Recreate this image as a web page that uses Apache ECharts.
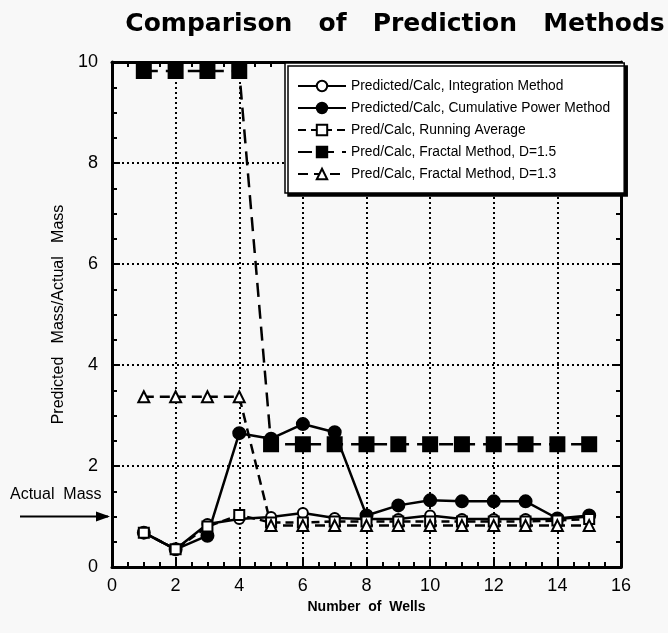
<!DOCTYPE html>
<html>
<head>
<meta charset="utf-8">
<script src="https://cdn.jsdelivr.net/npm/echarts@6/dist/echarts.min.js"></script>
<style>
html,body{margin:0;padding:0;background:#f8f8f8;}
#main{width:668px;height:633px;}
</style>
</head>
<body>
<div id="main"></div>
<script>
// data
var wells = [1,2,3,4,5,6,7,8,9,10,11,12,13,14,15];
var integration = [0.68,0.35,0.85,0.95,0.99,1.07,0.97,0.95,0.95,1.02,0.95,0.95,0.95,0.95,1.0];
var cumPower = [0.68,0.35,0.62,2.65,2.54,2.83,2.67,1.02,1.22,1.32,1.3,1.3,1.3,0.96,1.02];
var runningAvg = [0.68,0.35,0.8,1.03,0.88,0.88,0.9,0.9,0.9,0.9,0.9,0.9,0.9,0.92,0.95];
var fractal15 = [9.82,9.82,9.82,9.82,2.43,2.43,2.43,2.43,2.43,2.43,2.43,2.43,2.43,2.43,2.43];
var fractal13 = [3.37,3.37,3.37,3.37,0.82,0.82,0.82,0.82,0.82,0.82,0.82,0.82,0.82,0.82,0.82];
var names = ['Predicted/Calc, Integration Method','Predicted/Calc, Cumulative Power Method',
    'Pred/Calc, Running Average','Pred/Calc, Fractal Method, D=1.5','Pred/Calc, Fractal Method, D=1.3'];
var actualMass = 1;

function pairs(arr){
    var out=[];
    for(var i=0;i<arr.length;i++){ out.push([wells[i],arr[i]]); }
    return out;
}

function mkSeries(name,data,symbol,size,dash){
    return {
        name:name,
        type:'line',
        data:pairs(data),
        symbol:symbol,
        symbolSize:size,
        showAllSymbol:true,
        lineStyle:{color:'#000',width:2.5,type:dash},
        itemStyle:{color:'#000',borderColor:'#000',borderWidth:2},
        emphasis:{disabled:true},
        z:3
    };
}

var axisCommon = {
    type:'value',
    axisLine:{show:true,onZero:false,lineStyle:{color:'#000',width:3}},
    axisTick:{show:true,inside:true,length:8,lineStyle:{color:'#000',width:2}},
    minorTick:{show:true,splitNumber:4,length:5,lineStyle:{color:'#000',width:2}}
};

var chart = echarts.init(document.getElementById('main'));
var option = {
    backgroundColor:'#f8f8f8',
    animation:false,
    title:{
        text:'Comparison   of   Prediction   Methods',
        left:390, top:7, textAlign:'center',
        textStyle:{fontFamily:'DejaVu Sans',fontWeight:'bold',fontSize:25,color:'#000'}
    },
    grid:{left:112,right:47,top:62,bottom:66},
    legend:{
        orient:'vertical',
        left:285, top:63,
        padding:[16,14,12,12],
        itemGap:8,
        itemWidth:48,
        itemHeight:13,
        backgroundColor:'#fff',
        borderColor:'#000',
        borderWidth:1.5,
        shadowColor:'#000',
        shadowOffsetX:3,
        shadowOffsetY:3,
        shadowBlur:0,
        textStyle:{fontFamily:'Liberation Sans',fontSize:13.8,color:'#000'},
        data:names
    },
    xAxis:[
        Object.assign({}, axisCommon, {
            min:0,max:16,interval:2,
            name:'Number  of  Wells',
            nameLocation:'middle',nameGap:30,
            nameTextStyle:{fontFamily:'Liberation Sans',fontWeight:'bold',fontSize:14,color:'#000'},
            axisLabel:{fontFamily:'Liberation Sans',fontSize:18,color:'#000',margin:10},
            splitLine:{show:true,lineStyle:{color:'#000',width:2,type:[2,3]}}
        }),
        Object.assign({}, axisCommon, {
            min:0,max:16,interval:2,position:'top',
            axisLabel:{show:false},splitLine:{show:false}
        })
    ],
    yAxis:[
        Object.assign({}, axisCommon, {
            min:0,max:10,interval:2,
            name:'Predicted   Mass/Actual   Mass',
            nameLocation:'middle',nameGap:42,
            nameTextStyle:{fontFamily:'Liberation Sans',fontSize:16,color:'#000'},
            axisLabel:{fontFamily:'Liberation Sans',fontSize:18,color:'#000',margin:14},
            splitLine:{show:true,lineStyle:{color:'#000',width:2,type:[2,3]}}
        }),
        Object.assign({}, axisCommon, {
            min:0,max:10,interval:2,position:'right',
            axisLabel:{show:false},splitLine:{show:false}
        })
    ],
    series:[
        mkSeries(names[0],integration,'emptyCircle',10,'solid'),
        mkSeries(names[1],cumPower,'circle',12,'solid'),
        mkSeries(names[2],runningAvg,'emptyRect',10,[8,5]),
        mkSeries(names[3],fractal15,'rect',14,[14,8]),
        mkSeries(names[4],fractal13,'emptyTriangle',11,[10,6])
    ]
};
chart.setOption(option);

// "Actual Mass" arrow pointing at y = 1 on the left axis
var p = chart.convertToPixel({xAxisIndex:0,yAxisIndex:0},[0,actualMass]);
chart.setOption({
    graphic:[
        {type:'text',left:10,top:p[1]-30,
         style:{text:'Actual  Mass',font:'16px "Liberation Sans"',fill:'#000'}},
        {type:'line',shape:{x1:20,y1:p[1],x2:p[0]-4,y2:p[1]},
         style:{stroke:'#000',lineWidth:2}},
        {type:'polygon',shape:{points:[[p[0]-2,p[1]],[p[0]-16,p[1]-5],[p[0]-16,p[1]+5]]},
         style:{fill:'#000'}}
    ]
});
</script>
</body>
</html>
